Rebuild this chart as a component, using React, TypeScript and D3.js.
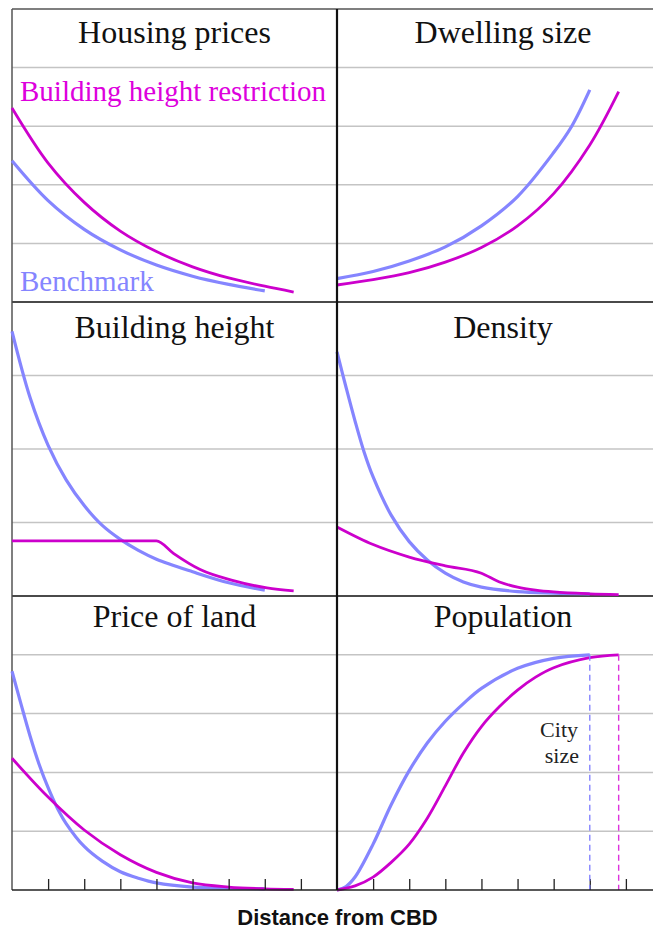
import { useEffect, useRef } from 'react'
import * as d3 from 'd3'

type Pt = [number, number]

// distance from CBD (0..9 per panel), value in grid bands
const housingBench: Pt[] = [[0, 2.41], [1, 1.73], [2, 1.24], [3, 0.89], [4, 0.63], [5, 0.44], [6, 0.3], [7, 0.19]]
const housingRestr: Pt[] = [[0, 3.31], [1, 2.37], [2, 1.7], [3, 1.21], [4, 0.86], [5, 0.6], [6, 0.41], [7, 0.27], [7.8, 0.17]]

const dwellingBench: Pt[] = [[0, 0.4], [1, 0.52], [2, 0.7], [3, 0.94], [4, 1.3], [5, 1.8], [6, 2.55], [6.5, 3.0], [7, 3.62]]
const dwellingRestr: Pt[] = [[0, 0.29], [1, 0.38], [2, 0.5], [3, 0.68], [4, 0.93], [5, 1.3], [6, 1.85], [7, 2.68], [7.8, 3.59]]

const heightBench: Pt[] = [[0, 3.6], [0.5, 2.7], [1, 2.05], [1.5, 1.58], [2, 1.23], [2.5, 0.96], [3, 0.77], [3.5, 0.62], [4, 0.5], [5, 0.33], [6, 0.18], [7, 0.08]]
const heightRestr: Pt[] = [[0, 0.75], [1, 0.75], [2, 0.75], [3, 0.75], [4, 0.75], [4.47, 0.58], [5.21, 0.36], [6.13, 0.21], [7.06, 0.11], [7.8, 0.07]]

const densityBench: Pt[] = [[0, 3.32], [0.25, 2.84], [0.5, 2.38], [0.75, 1.96], [1, 1.62], [1.5, 1.1], [2, 0.74], [2.5, 0.49], [3, 0.31], [3.5, 0.19], [4, 0.12], [5, 0.06], [6, 0.04], [7, 0.03]]
const densityRestr: Pt[] = [[0, 0.94], [1, 0.7], [2, 0.53], [3, 0.41], [4, 0.31], [4.5, 0.19], [5, 0.12], [5.5, 0.08], [6, 0.055], [7, 0.03], [7.8, 0.02]]

const landBench: Pt[] = [[0, 3.72], [0.25, 3.16], [0.5, 2.62], [0.75, 2.14], [1, 1.74], [1.25, 1.4], [1.5, 1.13], [2, 0.74], [2.5, 0.49], [3, 0.31], [3.5, 0.2], [4, 0.12], [5, 0.05], [6, 0.03], [7, 0.02]]
const landRestr: Pt[] = [[0, 2.24], [1, 1.58], [2, 1.02], [3, 0.6], [4, 0.3], [5, 0.12], [6, 0.05], [7, 0.02], [7.8, 0.01]]

const popBench: Pt[] = [[0, 0], [0.25, 0.06], [0.5, 0.22], [1, 0.78], [1.5, 1.45], [2, 2.03], [2.5, 2.5], [3, 2.87], [3.5, 3.17], [4, 3.43], [5, 3.77], [6, 3.94], [7, 4.0]]
const popRestr: Pt[] = [[0, 0], [0.5, 0.07], [1, 0.22], [1.5, 0.47], [2, 0.78], [2.5, 1.22], [3, 1.77], [3.5, 2.33], [4, 2.78], [4.5, 3.12], [5, 3.4], [5.5, 3.62], [6, 3.78], [7, 3.95], [7.8, 4.0]]

const citySize = [7, 7.8]
const tickValues = [1, 2, 3, 4, 5, 6, 7, 8]

const BLUE = '#8585ff'
const MAGENTA = '#cc00cc'

const smooth = d3.curveCatmullRom.alpha(0.5)
const kinked = d3.curveMonotoneX

const panels = [
  { title: 'Housing prices', row: 0, col: 0, bench: housingBench, restr: housingRestr, restrCurve: smooth },
  { title: 'Dwelling size', row: 0, col: 1, bench: dwellingBench, restr: dwellingRestr, restrCurve: smooth },
  { title: 'Building height', row: 1, col: 0, bench: heightBench, restr: heightRestr, restrCurve: kinked },
  { title: 'Density', row: 1, col: 1, bench: densityBench, restr: densityRestr, restrCurve: kinked },
  { title: 'Price of land', row: 2, col: 0, bench: landBench, restr: landRestr, restrCurve: smooth },
  { title: 'Population', row: 2, col: 1, bench: popBench, restr: popRestr, restrCurve: smooth },
]

const rows = [
  { top: 9, bottom: 302, bands: 5, titleY: 43 },
  { top: 302, bottom: 596, bands: 4, titleY: 338 },
  { top: 596, bottom: 890, bands: 5, titleY: 627 },
]
const cols = [
  { x0: 12, x1: 337, mid: 174.5 },
  { x0: 337, x1: 662, mid: 503 },
]

function App() {
  const svgRef = useRef<SVGSVGElement>(null)

  useEffect(() => {
    if (!svgRef.current) return
    const svg = d3.select(svgRef.current)
    svg.selectAll('*').remove()

    const W = 653
    const serif = "'Liberation Serif', 'Times New Roman', Times, 'DejaVu Serif', serif"

    // gridlines
    rows.forEach((r) => {
      const y = d3.scaleLinear().domain([0, r.bands]).range([r.bottom, r.top])
      d3.range(1, r.bands).forEach((v) => {
        svg.append('line')
          .attr('x1', 12).attr('x2', W)
          .attr('y1', y(v)).attr('y2', y(v))
          .attr('stroke', '#c4c4c4').attr('stroke-width', 1.5)
      })
    })

    // frame
    svg.append('line').attr('x1', 12).attr('x2', W).attr('y1', 9).attr('y2', 9)
      .attr('stroke', '#555').attr('stroke-width', 1.5)
    svg.append('line').attr('x1', 12).attr('x2', 12).attr('y1', 9).attr('y2', 890)
      .attr('stroke', '#555').attr('stroke-width', 1.5)
    ;[302, 596].forEach((y) => {
      svg.append('line').attr('x1', 12).attr('x2', W).attr('y1', y).attr('y2', y)
        .attr('stroke', '#4a4a4a').attr('stroke-width', 2)
    })

    panels.forEach((p) => {
      const r = rows[p.row]
      const c = cols[p.col]
      const x = d3.scaleLinear().domain([0, 9]).range([c.x0, c.x1])
      const y = d3.scaleLinear().domain([0, r.bands]).range([r.bottom, r.top])
      const g = svg.append('g')

      const line = d3.line<Pt>()
        .x((d) => x(d[0]))
        .y((d) => y(d[1]))

      g.append('path').attr('d', line.curve(smooth)(p.bench)).attr('fill', 'none')
        .attr('stroke', BLUE).attr('stroke-width', 3.2)
      g.append('path').attr('d', line.curve(p.restrCurve)(p.restr)).attr('fill', 'none')
        .attr('stroke', MAGENTA).attr('stroke-width', 2.8)

      g.append('text')
        .attr('x', c.mid).attr('y', r.titleY)
        .attr('text-anchor', 'middle')
        .attr('font-family', serif).attr('font-size', 32)
        .attr('fill', '#111')
        .text(p.title)

      if (p.row === 2) {
        const axis = g.append('g')
          .attr('transform', `translate(0,${r.bottom})`)
          .call(d3.axisBottom(x).tickValues(tickValues).tickSize(-11).tickFormat(() => ''))
        axis.select('.domain').remove()
        axis.selectAll('line').attr('stroke', '#222').attr('stroke-width', 1.3)
      }

      if (p.title === 'Population') {
        citySize.forEach((cs, i) => {
          g.append('line')
            .attr('x1', x(cs)).attr('x2', x(cs))
            .attr('y1', y(4)).attr('y2', y(0))
            .attr('stroke', i === 0 ? BLUE : '#dd33dd')
            .attr('stroke-width', 1.4)
            .attr('stroke-dasharray', '6,4')
        })
        const t = g.append('text')
          .attr('text-anchor', 'end')
          .attr('font-family', serif).attr('font-size', 22)
          .attr('fill', '#222')
        t.append('tspan').attr('x', 578).attr('y', 737).text('City')
        t.append('tspan').attr('x', 579).attr('y', 763).text('size')
      }
    })

    // bottom axis line and middle divider
    svg.append('line').attr('x1', 12).attr('x2', W).attr('y1', 890).attr('y2', 890)
      .attr('stroke', '#222').attr('stroke-width', 1.6)
    svg.append('line').attr('x1', 337).attr('x2', 337).attr('y1', 9).attr('y2', 890)
      .attr('stroke', '#111').attr('stroke-width', 2.2)

    // legend labels
    svg.append('text').attr('x', 20).attr('y', 101)
      .attr('font-family', serif).attr('font-size', 29)
      .attr('fill', '#dd00dd')
      .text('Building height restriction')
    svg.append('text').attr('x', 20).attr('y', 291)
      .attr('font-family', serif).attr('font-size', 29)
      .attr('fill', BLUE)
      .text('Benchmark')

    svg.append('text').attr('x', 337.5).attr('y', 925)
      .attr('text-anchor', 'middle')
      .attr('font-family', "'Liberation Sans', Arial, sans-serif")
      .attr('font-size', 22).attr('font-weight', 'bold')
      .attr('fill', '#111')
      .text('Distance from CBD')
  }, [])

  return (
    <svg
      ref={svgRef}
      width={653}
      height={929}
      style={{ position: 'absolute', left: 0, top: 0, background: '#fff' }}
    />
  )
}

export default App
